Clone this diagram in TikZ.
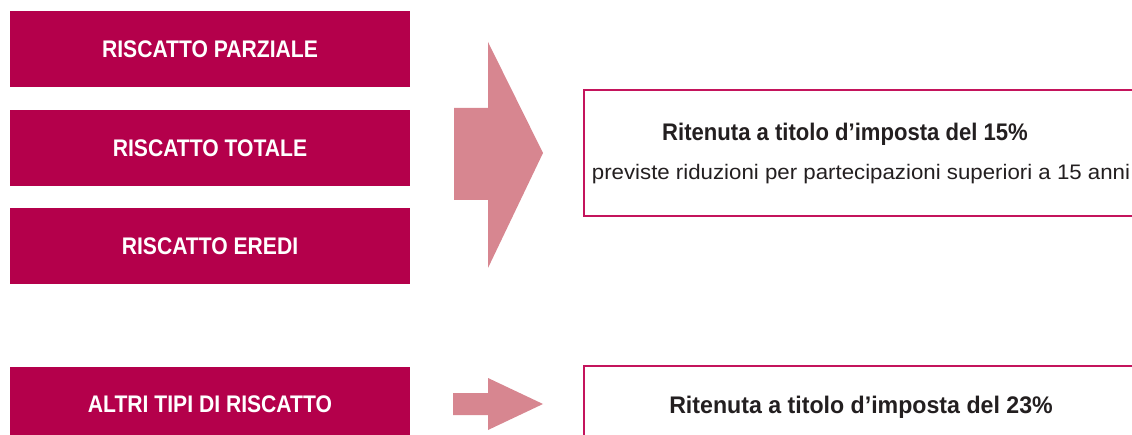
\documentclass[tikz,border=0pt]{standalone}
\usepackage{fontspec}
\setmainfont{Liberation Sans}
\newfontfamily\boxfont{Liberation Sans}[FakeStretch=0.88]
\newfontfamily\headfont{Liberation Sans}[FakeStretch=0.92]
\newfontfamily\headwidefont{Liberation Sans}[FakeStretch=0.965]
\newfontfamily\notefont{Liberation Sans}[FakeStretch=1.06]
\usetikzlibrary{positioning}
\definecolor{riscatto}{RGB}{180,0,75}
\definecolor{freccia}{RGB}{215,134,144}
\definecolor{bordo}{RGB}{196,20,92}
\definecolor{testo}{RGB}{35,31,32}
\tikzset{
  leftbox/.style={fill=riscatto, text=white, font=\boxfont\bfseries\fontsize{24}{28}\selectfont,
    minimum width=400pt, minimum height=76pt, inner sep=0pt},
  taxbox/.style={draw=bordo, line width=2.5pt, fill=white},
  taxhead/.style={text=testo, font=\headfont\bfseries\fontsize{24}{28}\selectfont, inner sep=0pt, anchor=base},
  taxnote/.style={text=testo, font=\notefont\fontsize{21}{25}\selectfont, inner sep=0pt, anchor=base},
  arrowfill/.style={fill=freccia}
}
\begin{document}
\begin{tikzpicture}[x=1pt,y=-1pt]
\useasboundingbox (0,0) rectangle (1132,435);
\clip (0,0) rectangle (1132,435);
% left column
\node[leftbox] (parziale) at (210,49.5) {RISCATTO PARZIALE};
\node[leftbox, below=22pt of parziale] (totale) {RISCATTO TOTALE};
\node[leftbox, below=22pt of totale] (eredi) {RISCATTO EREDI};
\node[leftbox, below=82pt of eredi] (altri) {ALTRI TIPI DI RISCATTO};
% arrows
\fill[arrowfill] (454,108) -- (488,108) -- (488,42) -- (543,153) -- (488,268) -- (488,200) -- (454,200) -- cycle;
\fill[arrowfill] (453,393) -- (488,393) -- (488,378) -- (543,404) -- (488,430) -- (488,415) -- (453,415) -- cycle;
% right column
\draw[taxbox] (584,90) rectangle (1145,216);
\node[taxhead] (rit15) at (845,141) {Ritenuta a titolo d’imposta del 15\%};
\node[taxnote] (nota15) at (861,180) {previste riduzioni per partecipazioni superiori a 15 anni};
\draw[taxbox] (584,366) rectangle (1145,500);
\node[taxhead, font=\headwidefont\bfseries\fontsize{24}{28}\selectfont] (rit23) at (861,413) {Ritenuta a titolo d’imposta del 23\%};
\end{tikzpicture}
\end{document}
